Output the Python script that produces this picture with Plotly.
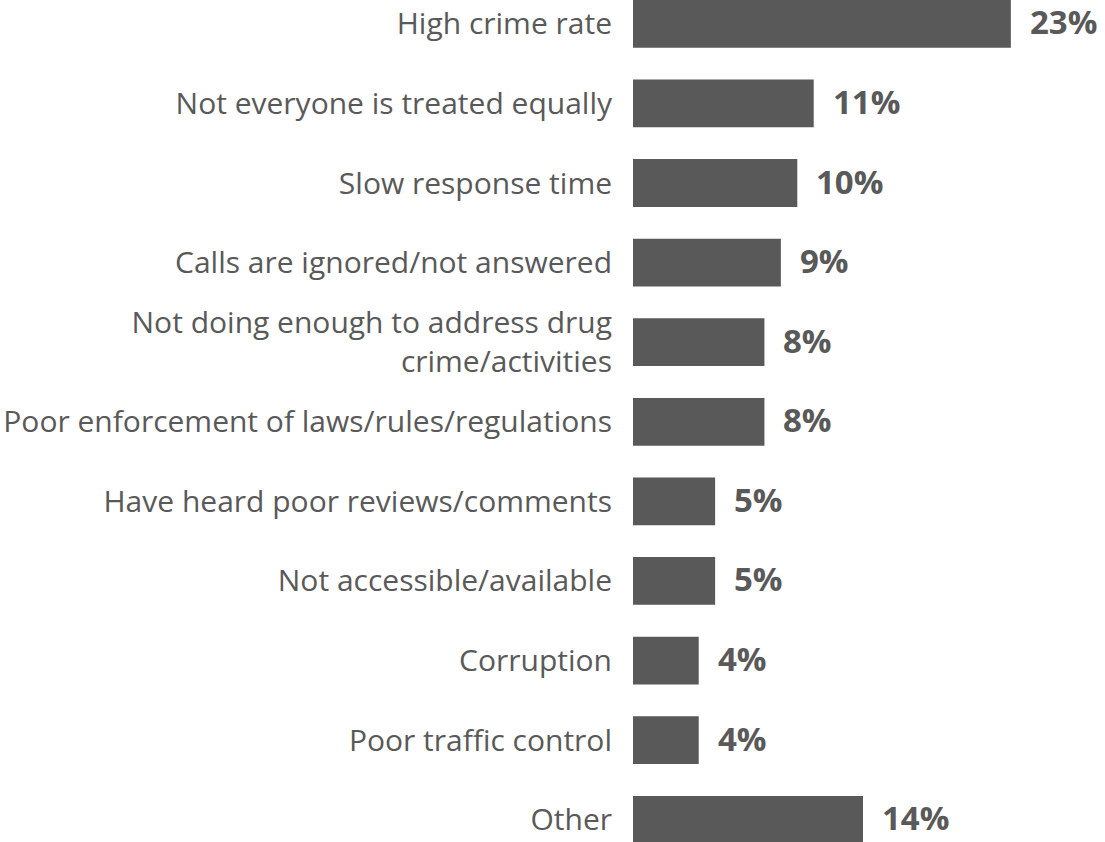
import plotly.graph_objects as go

# Reasons given, top to bottom, with share of respondents (%)
categories = [
    "High crime rate",
    "Not everyone is treated equally",
    "Slow response time",
    "Calls are ignored/not answered",
    "Not doing enough to address drug<br>crime/activities",
    "Poor enforcement of laws/rules/regulations",
    "Have heard poor reviews/comments",
    "Not accessible/available",
    "Corruption",
    "Poor traffic control",
    "Other",
]
values = [23, 11, 10, 9, 8, 8, 5, 5, 4, 4, 14]
value_labels = [f"{v}%" for v in values]

BAR_COLOR = "#595959"
TEXT_COLOR = "#595959"
FONT = "Open Sans"

fig = go.Figure(
    go.Bar(
        x=values,
        y=categories,
        orientation="h",
        marker=dict(color=BAR_COLOR, line=dict(width=0)),
        width=0.6,
        hoverinfo="skip",
    )
)

# Bold percentage labels just past the end of each bar
for cat, v, lab in zip(categories, values, value_labels):
    fig.add_annotation(
        x=v, y=cat, text=f"<b>{lab}</b>", showarrow=False,
        xanchor="left", yanchor="middle", xshift=17, yshift=2,
        font=dict(family=FONT, size=33, color=TEXT_COLOR),
    )

fig.update_layout(
    width=1105, height=842,
    margin=dict(l=633, r=0, t=0, b=0),
    paper_bgcolor="white", plot_bgcolor="white",
    showlegend=False,
    font=dict(family=FONT, color=TEXT_COLOR),
    xaxis=dict(range=[0, 28.73], visible=False, fixedrange=True),
    yaxis=dict(
        type="category",
        categoryorder="array", categoryarray=categories,
        range=[10.279, -0.299],
        showgrid=False, zeroline=False, showline=False,
        ticks="", ticklabelstandoff=20,
        tickfont=dict(family=FONT, size=30, color=TEXT_COLOR),
        fixedrange=True,
    ),
)

fig.write_html("out.html")
